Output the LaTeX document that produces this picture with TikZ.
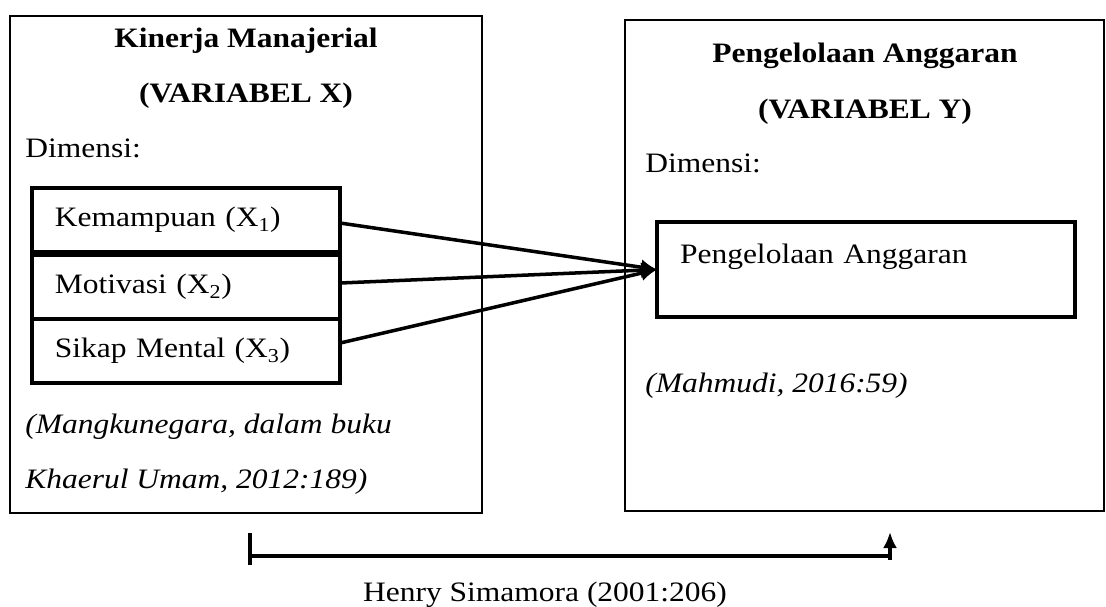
\documentclass[tikz,border=0pt]{standalone}
\usepackage{fontspec}
\setmainfont{Liberation Serif}[FakeStretch=1.12]
\usetikzlibrary{positioning,arrows.meta}

\begin{document}
\begin{tikzpicture}[x=0.025cm, y=0.025cm, auto,
	font=\fontsize{20}{24}\selectfont,
	>={Latex[length=4mm,width=4mm]},
	varbox/.style={rectangle,draw=black,line width=1.4pt,outer sep=0pt},
	dimbox/.style={rectangle,draw=black,line width=2.8pt,outer sep=0pt,inner xsep=0.575cm,align=left},
	plain/.style={inner sep=0pt},
	link/.style={line width=2.5pt}]
	\useasboundingbox (0,0) rectangle (1106,-606);
	\node[varbox, minimum width=11.8cm, minimum height=12.425cm] (varX) at (246,-264.5) {};
	\node[varbox, minimum width=11.975cm, minimum height=12.275cm] (varY) at (864.5,-265.5) {};
	% variabel X
	\node[plain, anchor=base] (titleX) at (246,-47) {\bfseries Kinerja Manajerial};
	\node[plain, anchor=base] (labelX) at (246,-102) {\bfseries (VARIABEL X)};
	\node[plain, anchor=base west] (dimX) at (25,-157) {Dimensi:};
	\node[dimbox, text width=6.55cm, minimum height=1.6cm] (kemampuan) at (186,-220) {Kemampuan (X\textsubscript{1})};
	\node[dimbox, text width=6.55cm, minimum height=1.6cm] (motivasi) [below=0.075cm of kemampuan] {Motivasi (X\textsubscript{2})};
	\node[dimbox, text width=6.55cm, minimum height=1.6cm] (sikap) [below=0pt of motivasi] {Sikap Mental (X\textsubscript{3})};
	\node[plain, anchor=base west] (srcX1) at (25,-433) {\itshape (Mangkunegara, dalam buku};
	\node[plain, anchor=base west] (srcX2) at (25,-488) {\itshape Khaerul Umam, 2012:189)};
	% variabel Y
	\node[plain, anchor=base] (titleY) at (865,-62) {\bfseries Pengelolaan Anggaran};
	\node[plain, anchor=base] (labelY) at (865,-118) {\bfseries (VARIABEL Y)};
	\node[plain, anchor=base west] (dimY) at (645,-172) {Dimensi:};
	\node[dimbox, text width=9.3cm, inner ysep=0pt, text height=1.025cm, text depth=1.35cm,
		anchor=north west] (anggaran) at (657,-222) {Pengelolaan Anggaran};
	\node[plain, anchor=base west] (srcY) at (645,-392) {\itshape (Mahmudi, 2016:59)};
	% arrows
	\path[->, link] ([yshift=-0.075cm]kemampuan.east) edge (anggaran.west);
	\path[->, link] ([yshift=0.1cm]motivasi.east) edge (anggaran.west);
	\path[->, link] ([yshift=0.2cm]sikap.east) edge (anggaran.west);
	% source
	\coordinate (srcStart) at (250,-556);
	\coordinate (srcEnd) at (890,-556);
	\draw[link] ([yshift=0.575cm]srcStart) -- ([yshift=-0.225cm]srcStart);
	\draw[link] (srcStart) -- (srcEnd);
	\draw[link, -{Latex[length=0.4cm,width=0.35cm]}] ([yshift=-0.1cm]srcEnd) -- ([yshift=0.6cm]srcEnd);
	\node[plain, anchor=base] (henry) at (545,-601) {Henry Simamora (2001:206)};
\end{tikzpicture}
\end{document}
